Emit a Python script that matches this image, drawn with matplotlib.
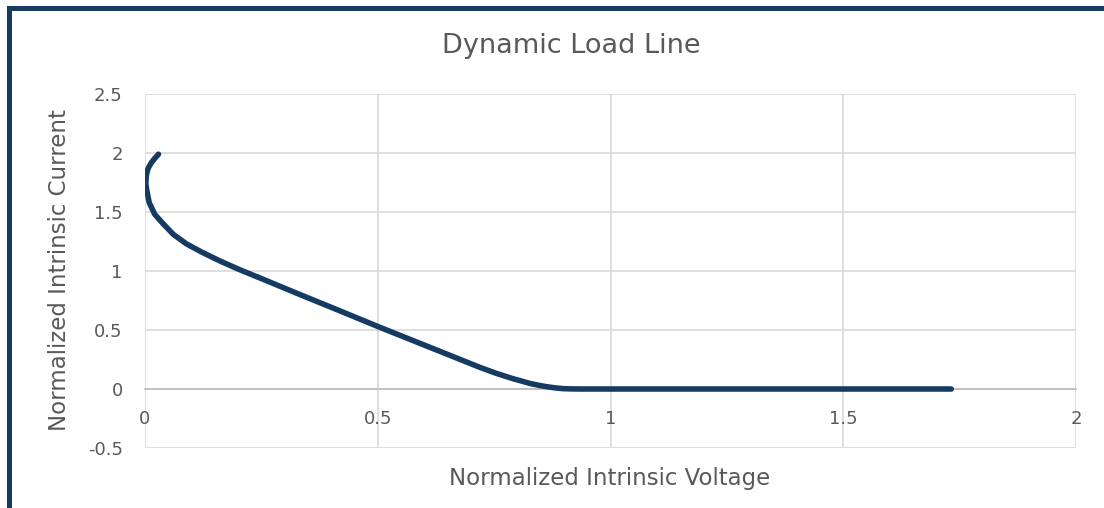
import matplotlib
matplotlib.use("Agg")
import matplotlib.pyplot as plt
from matplotlib.patches import Rectangle

# dynamic load line
voltage = [0.029, 0.020, 0.014, 0.008, 0.005, 0.003, 0.002, 0.002, 0.004, 0.009,
           0.021, 0.039, 0.061, 0.089, 0.122, 0.161, 0.204, 0.261, 0.333, 0.404,
           0.50, 0.576, 0.647, 0.719, 0.755, 0.79, 0.81, 0.826, 0.845, 0.862,
           0.88, 0.898, 0.915, 0.933, 1.2, 1.5, 1.732]
current = [1.99, 1.95, 1.92, 1.88, 1.85, 1.81, 1.77, 1.73, 1.68, 1.58,
           1.48, 1.40, 1.31, 1.23, 1.16, 1.085, 1.01, 0.918, 0.80, 0.686,
           0.53, 0.41, 0.298, 0.184, 0.132, 0.088, 0.066, 0.048, 0.032, 0.02,
           0.01, 0.003, 0.001, 0.0, 0.0, 0.0, 0.0]

xticks = [0, 0.5, 1, 1.5, 2]
yticks = [-0.5, 0, 0.5, 1, 1.5, 2, 2.5]

txt = '#595959'
line_col = '#163b62'

fig = plt.figure(figsize=(11.04, 5.08), dpi=100)
ax = fig.add_axes([145/1104, 1 - 448/508, (1076-145)/1104, (448-94)/508])

ax.plot(voltage, current, color=line_col, lw=4, solid_capstyle='round',
        solid_joinstyle='round', zorder=3)

ax.set_xlim(0, 2)
ax.set_ylim(-0.5, 2.5)
ax.set_xticks(xticks)
ax.set_yticks(yticks)
ax.set_xticklabels(['0', '0.5', '1', '1.5', '2'])
ax.set_yticklabels(['-0.5', '0', '0.5', '1', '1.5', '2', '2.5'])
ax.grid(True, color='#d9d9d9', lw=1.2)
ax.set_axisbelow(True)

for s in ['top', 'right', 'left']:
    ax.spines[s].set_visible(False)
ax.spines['bottom'].set_position(('data', 0))
ax.spines['bottom'].set_color('#bfbfbf')
ax.spines['bottom'].set_linewidth(1.3)
ax.spines['bottom'].set_zorder(2)

ax.tick_params(axis='both', length=0, labelsize=13, labelcolor=txt,
               labelfontfamily='DejaVu Sans')
ax.tick_params(axis='x', pad=15)
ax.tick_params(axis='y', pad=16)

fig.text(571/1104, 1 - 46/508, 'Dynamic Load Line', ha='center', va='center',
         fontsize=19.5, color=txt, family='DejaVu Sans')
fig.text(610/1104, 1 - 479/508, 'Normalized Intrinsic Voltage', ha='center',
         va='center', fontsize=16.5, color=txt, family='DejaVu Sans')
fig.text(60/1104, 1 - 270/508, 'Normalized Intrinsic Current', ha='center',
         va='center', rotation=90, fontsize=16.5, color=txt, family='DejaVu Sans')

# dark frame round the chart, cut off at the right and bottom
fig.add_artist(Rectangle((8.5/1104, -0.5), 2, 1.5 - 7.5/508,
                         transform=fig.transFigure, fill=False,
                         edgecolor='#173b61', lw=3.6, clip_on=False))

fig.savefig('out.png', dpi=100)
